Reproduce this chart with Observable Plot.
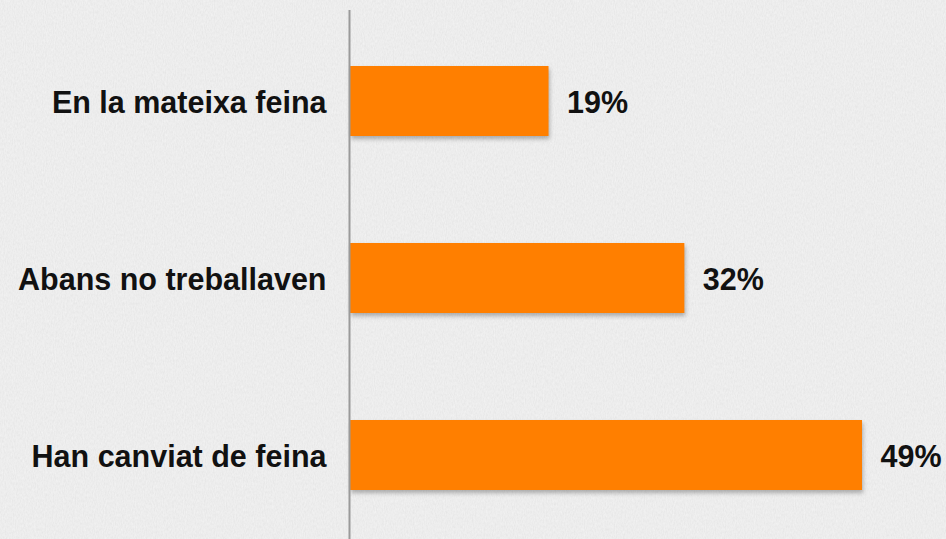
<!DOCTYPE html>
<html>
<head>
<meta charset="utf-8">
<script src="https://cdn.jsdelivr.net/npm/d3@7"></script>
<script src="https://cdn.jsdelivr.net/npm/@observablehq/plot@0.6"></script>
<style>
  html, body { margin: 0; padding: 0; background: #f1f1f1; }
  #chart { position: relative; width: 946px; height: 539px; }
  #bg { position: absolute; left: 0; top: 0; }
</style>
</head>
<body>
<div id="chart">
<svg id="bg" width="946" height="539">
  <filter id="paper" x="0" y="0" width="100%" height="100%">
    <feTurbulence type="fractalNoise" baseFrequency="0.9 0.35" numOctaves="3" seed="4" result="n"/>
    <feColorMatrix type="matrix" values="0 0 0 0 0  0 0 0 0 0  0 0 0 0 0  0 0 0 0.14 0" in="n" result="a"/>
    <feComposite in="a" in2="SourceGraphic" operator="over"/>
  </filter>
  <rect width="946" height="539" fill="#f4f4f4" filter="url(#paper)"/>
</svg>
</div>
<script>
const categories = ["En la mateixa feina", "Abans no treballaven", "Han canviat de feina"];
const values = [19, 32, 49];
const labels = ["19%", "32%", "49%"];

const data = categories.map((c, i) => ({category: c, value: values[i], label: labels[i]}));

const chart = Plot.plot({
  width: 946,
  height: 539,
  marginLeft: 350,
  marginRight: 84,
  marginTop: 10,
  marginBottom: 0,
  style: {background: "transparent", fontFamily: "'Liberation Sans', Arial, sans-serif"},
  x: {domain: [0, 49], axis: null},
  y: {domain: categories, range: [11.75, 543.25], paddingInner: 0.6056, paddingOuter: 0.3, label: null},
  marks: [
    Plot.axisY({tickSize: 0, tickPadding: 24, fontSize: 30.5, fontWeight: "bold", fill: "#111", dy: 1.5, label: null}),
    Plot.barX(data, {x: "value", y: "category", fill: "#ff7f00"}),
    Plot.text(data, {x: "value", y: "category", text: "label", textAnchor: "start", dx: 18, dy: 1.5, fontSize: 30.5, fontWeight: "bold", fill: "#111"}),
    Plot.ruleX([0], {stroke: "#9a9a9a", strokeWidth: 2, dx: -1})
  ]
});
chart.style.position = "absolute";
chart.style.left = "0px";
chart.style.top = "0px";
document.getElementById("chart").appendChild(chart);
chart.querySelectorAll('g[aria-label="bar"]').forEach(g => {
  g.style.filter = "drop-shadow(1px 3px 2px rgba(0,0,0,0.28))";
});
</script>
</body>
</html>
